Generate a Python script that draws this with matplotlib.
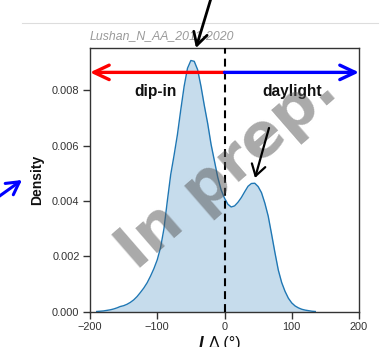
import matplotlib
matplotlib.use("Agg")
import matplotlib.pyplot as plt
from matplotlib.patches import FancyArrowPatch
from matplotlib.lines import Line2D

# Kernel density estimate of I_Delta, sampled every 5 degrees
angle_deg = [-190, -185, -180, -175, -170, -165, -160, -155, -150, -145,
             -140, -135, -130, -125, -120, -115, -110, -105, -100, -95,
             -90, -85, -80, -75, -70, -65, -60, -55, -50, -45,
             -40, -35, -30, -25, -20, -15, -10, -5, 0, 5,
             10, 15, 20, 25, 30, 35, 40, 45, 50, 55,
             60, 65, 70, 75, 80, 85, 90, 95, 100, 105,
             110, 115, 120, 125, 130, 135]
density = [0.0, 0.00001, 0.00002, 0.00004, 0.00006, 0.00009, 0.00013, 0.00018, 0.00021, 0.00026,
           0.00033, 0.00042, 0.00054, 0.00069, 0.00085, 0.00104, 0.00128, 0.00155, 0.00187, 0.00232,
           0.00300, 0.00400, 0.00495, 0.00565, 0.00640, 0.00730, 0.00815, 0.00880, 0.00908, 0.00905,
           0.00875, 0.00815, 0.00745, 0.00680, 0.00605, 0.00545, 0.00485, 0.00440, 0.00410, 0.00388,
           0.00378, 0.00382, 0.00395, 0.00412, 0.00433, 0.00453, 0.00463, 0.00464, 0.00452, 0.00430,
           0.00392, 0.00345, 0.00280, 0.00213, 0.00150, 0.00105, 0.00073, 0.00048, 0.00031, 0.00020,
           0.00013, 0.00008, 0.00005, 0.00003, 0.00001, 0.0]

xticks = [-200, -100, 0, 100, 200]
yticks = [0.000, 0.002, 0.004, 0.006, 0.008]
site_title = "Lushan_N_AA_2011-2020"
left_label = "dip-in"
right_label = "daylight"

W, H = 385, 347
fig = plt.figure(figsize=(W / 100, H / 100), dpi=100)
ax = fig.add_axes([90 / W, 35.5 / H, 269 / W, 264 / H])

kde_blue = "#1f77b4"
ax.fill_between(angle_deg, density, color=kde_blue, alpha=0.25, lw=0)
ax.plot(angle_deg, density, color=kde_blue, lw=1.0)

ax.set_xlim(-200, 200)
ax.set_ylim(0, 0.00955)
ax.set_xticks(xticks)
ax.set_yticks(yticks)
ax.set_yticklabels([f"{v:.3f}" for v in yticks])
ax.set_xticklabels([str(v).replace("-", "\u2212") for v in xticks])

for lab in ax.get_xticklabels() + ax.get_yticklabels():
    lab.set_fontfamily("Liberation Sans")
    lab.set_fontsize(7.9)
ax.tick_params(axis="both", direction="out", length=5, width=1.0,
               color="#333333", labelcolor="#333333", pad=2.5)
for sp in ax.spines.values():
    sp.set_color("#333333")
    sp.set_linewidth(1.0)

ax.set_ylabel("Density", fontfamily="Liberation Sans", fontweight="bold",
              fontsize=10, color="#111111", labelpad=6)

# boundary between dip-in and daylight
ax.axvline(0, color="black", lw=1.5, dashes=(3.8, 2.4), zorder=3)

# direction arrows
arrow_y = 0.00865
for x_end, c in [(-200, "red"), (200, "blue")]:
    ax.add_patch(FancyArrowPatch((0, arrow_y), (x_end, arrow_y),
                                 arrowstyle="->,head_length=11,head_width=5.2",
                                 mutation_scale=1, color=c, lw=2.4,
                                 shrinkA=0, shrinkB=0, zorder=4,
                                 clip_on=False))

ax.text(0.244, 0.833, left_label, transform=ax.transAxes, ha="center", va="center",
        fontfamily="Liberation Sans", fontweight="bold", fontsize=11.2, color="#111111")
ax.text(0.751, 0.833, right_label, transform=ax.transAxes, ha="center", va="center",
        fontfamily="Liberation Sans", fontweight="bold", fontsize=11.2, color="#111111")

# title
fig.text(90 / W, 1 - 36 / H, site_title, ha="left", va="center",
         fontfamily="Liberation Sans", fontstyle="italic", fontsize=8.8, color="#9a9a9a")

# thin rule above the panel
fig.add_artist(Line2D([22 / W, 378 / W], [1 - 23 / H, 1 - 23 / H],
                      transform=fig.transFigure, color="#dddddd", lw=0.8))

# x-axis label
fig.text(203 / W, 1 - 336 / H, "I", ha="right", va="top", fontfamily="Liberation Sans",
         fontweight="bold", fontstyle="italic", fontsize=12, color="#111111")
fig.text(209 / W, 1 - 336 / H, "\u0394 (\u00b0)", ha="left", va="top",
         fontfamily="Liberation Sans", fontsize=11.5, color="#111111")

# watermark
ax.text(0.51, 0.535, "In prep.", transform=ax.transAxes, rotation=41,
        ha="center", va="center", fontfamily="DejaVu Sans", fontweight="bold",
        fontsize=44, color="#555555", alpha=0.5, zorder=6)


def pointer(p_from, p_to, color, lw, hl, hw):
    # positions are given in image pixels measured from the top-left corner
    fig.add_artist(FancyArrowPatch((p_from[0] / W, 1 - p_from[1] / H),
                                   (p_to[0] / W, 1 - p_to[1] / H),
                                   transform=fig.transFigure,
                                   arrowstyle=f"->,head_length={hl},head_width={hw}",
                                   mutation_scale=1, color=color, lw=lw,
                                   shrinkA=0, shrinkB=0, zorder=7))


pointer((212, -5), (196, 48), "black", 2.0, 9, 5)
pointer((269, 128), (255, 178), "black", 1.6, 8, 5)
pointer((-6, 200), (22, 180), "blue", 2.2, 9, 5)

fig.savefig("out.png", dpi=100)
